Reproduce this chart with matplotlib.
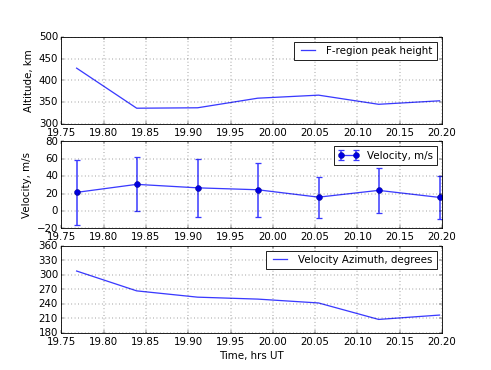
import matplotlib
matplotlib.use("Agg")
import matplotlib.pyplot as plt

plt.style.use("classic")
plt.rcParams["axes.formatter.useoffset"] = False

time_ut = [19.768, 19.839, 19.911, 19.982, 20.054, 20.125, 20.197]
peak_height = [428, 336, 337, 359, 366, 345, 353]
velocity = [21.4, 30.6, 26.6, 24.4, 15.9, 23.7, 15.6]
velocity_err = [37.6, 31.0, 33.0, 31.0, 23.5, 25.5, 24.6]
azimuth = [308, 267, 254, 250, 242, 208, 217]

line_blue = "#3a3aff"

fig = plt.figure(figsize=(8, 6.03), dpi=61.4)

ax1 = fig.add_subplot(311)
ax1.plot(time_ut, peak_height, "-", color=line_blue, lw=1.5, label="F-region peak height")
ax1.set_ylabel("Altitude, km")
ax1.set_xlim(19.75, 20.20)
ax1.set_ylim(300, 500)
ax1.set_yticks([300, 350, 400, 450, 500])
ax1.grid(True)
ax1.legend(loc="upper right", fontsize=12)

ax2 = fig.add_subplot(312)
ax2.errorbar(time_ut, velocity, yerr=velocity_err, fmt="o-", color=line_blue,
             ecolor=line_blue, lw=1.5, elinewidth=1.8, capthick=1.5, ms=7,
             mfc="#0000e0", mec="#000080", label="Velocity, m/s")
ax2.set_ylabel("Velocity, m/s")
ax2.set_xlim(19.75, 20.20)
ax2.set_ylim(-20, 80)
ax2.grid(True)
ax2.legend(loc="upper right", fontsize=12)

ax3 = fig.add_subplot(313)
ax3.plot(time_ut, azimuth, "-", color=line_blue, lw=1.5, label="Velocity Azimuth, degrees")
ax3.set_xlabel("Time, hrs UT")
ax3.set_xlim(19.75, 20.20)
ax3.set_ylim(180, 360)
ax3.set_yticks(range(180, 361, 30))
ax3.grid(True)
ax3.legend(loc="upper right", fontsize=12)

for ax in (ax1, ax2, ax3):
    ax.set_xticks([19.75, 19.80, 19.85, 19.90, 19.95, 20.00, 20.05, 20.10, 20.15, 20.20])

fig.savefig("out.png", dpi=61.4)
